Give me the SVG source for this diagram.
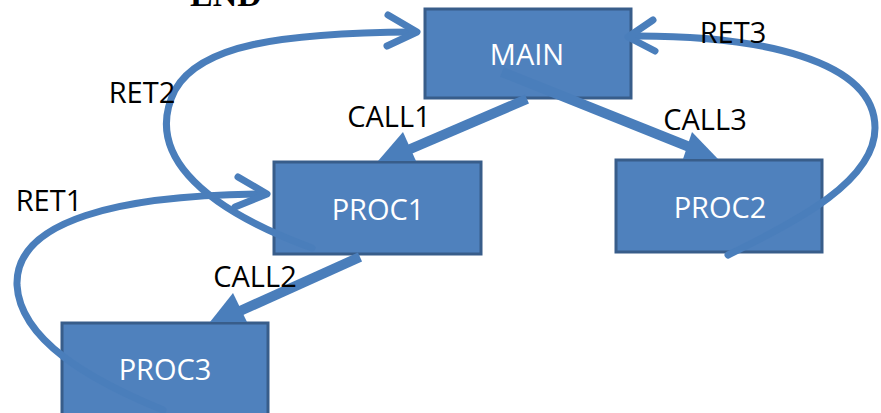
<svg xmlns="http://www.w3.org/2000/svg" width="881" height="413" viewBox="0 0 881 413">
<style>
.box{fill:#4F81BD;stroke:#385D8A;stroke-width:3}
.nt{font-family:"Open Sans","Liberation Sans",sans-serif;font-size:29px;fill:#FFFFFF;text-anchor:middle}
.lb{font-family:"Open Sans","Liberation Sans",sans-serif;font-size:29px;fill:#000000;text-anchor:middle}
.shaft{stroke:#4A7EBB;stroke-width:10;fill:none}
.head{fill:#4A7EBB;stroke:none}
.curve{stroke:#4A7EBB;stroke-width:7;fill:none;stroke-linecap:round}
.chev{stroke:#4A7EBB;stroke-width:7;fill:none;stroke-linecap:round;stroke-linejoin:round}
</style>
<rect width="881" height="413" fill="#FFFFFF"/>
<text x="226" y="6" font-family="'Liberation Serif',serif" font-weight="bold" font-size="34" text-anchor="middle" fill="#000000">END</text>
<g id="main"><rect class="box" x="425" y="9" width="206" height="89"/><text class="nt" x="527" y="65">MAIN</text></g>
<g id="proc1"><rect class="box" x="274" y="162" width="207" height="92"/><text class="nt" x="378" y="220">PROC1</text></g>
<g id="proc2"><rect class="box" x="616" y="160" width="206" height="92"/><text class="nt" x="720" y="218">PROC2</text></g>
<g id="proc3"><rect class="box" x="62" y="323" width="206" height="95"/><text class="nt" x="165" y="380">PROC3</text></g>
<g id="connectors">
<line class="shaft" x1="527" y1="99" x2="408" y2="150"/>
<polygon class="head" points="403,132 416,161 378,161"/>
<line class="shaft" x1="502" y1="72" x2="697" y2="150"/>
<polygon class="head" points="692,132 718,159 683,159"/>
<line class="shaft" x1="360" y1="257" x2="240" y2="311"/>
<polygon class="head" points="233,293 247,322 210,322"/>
<path class="curve" d="M312,248 C195,205 145,150 175,90 C200,45 280,33 414,32"/>
<polyline class="chev" points="388,15 417,32 387,46"/>
<path class="curve" d="M163,410 C90,380 20,340 17,285 C15,220 120,195 264,194"/>
<polyline class="chev" points="238,177 267,194 235,207"/>
<path class="curve" d="M728,255 C800,220 875,180 875,128 C875,60 760,35 630,36"/>
<polyline class="chev" points="653,20 628,37 655,51"/>
</g>
<g id="labels">
<text class="lb" x="389" y="127">CALL1</text>
<text class="lb" x="705" y="130">CALL3</text>
<text class="lb" x="255" y="287">CALL2</text>
<text class="lb" x="733" y="43">RET3</text>
<text class="lb" x="142" y="103">RET2</text>
<text class="lb" x="49" y="211">RET1</text>
</g>
</svg>
